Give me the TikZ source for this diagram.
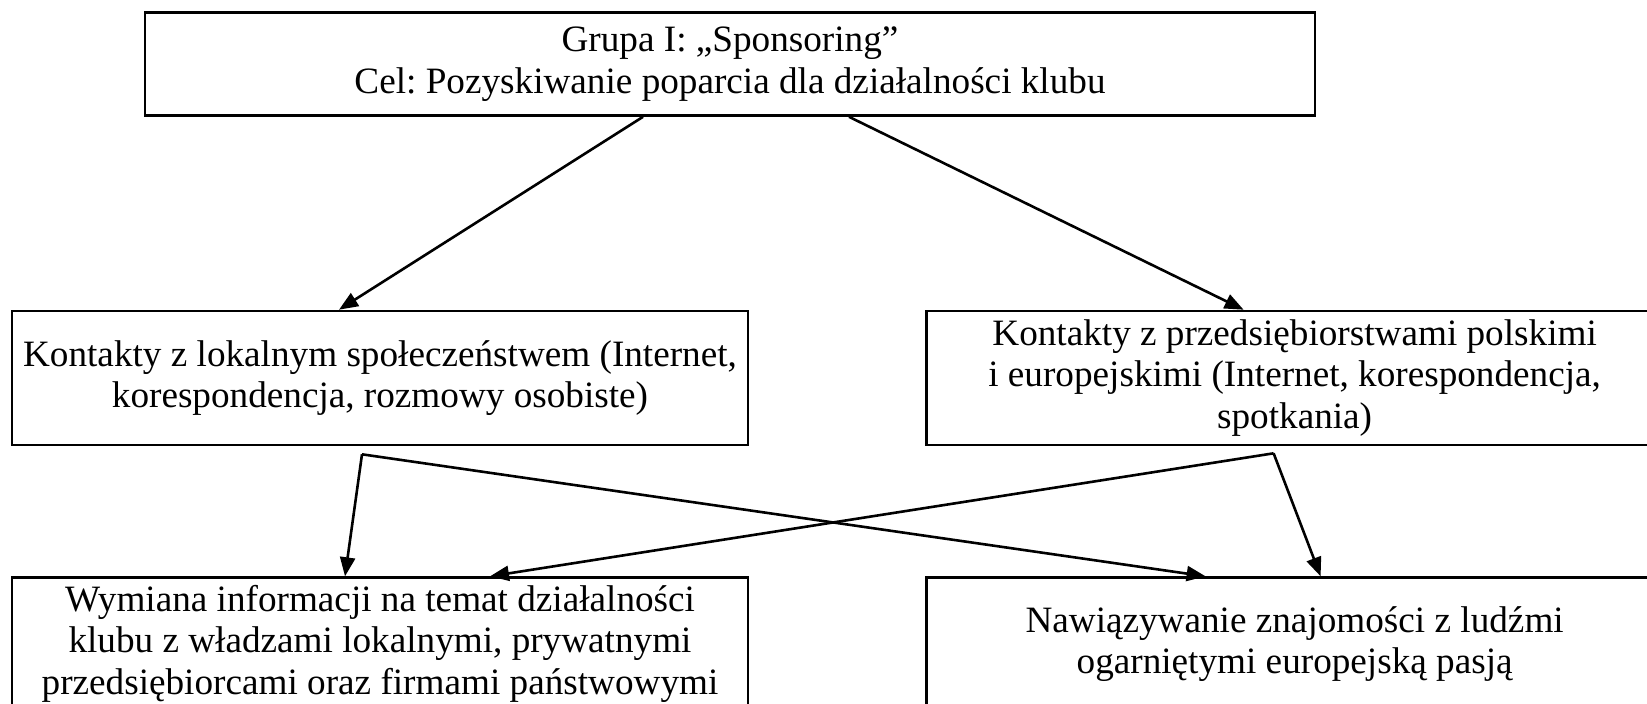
\documentclass[tikz,border=0pt]{standalone}
\usepackage{fontspec}
\setmainfont{Liberation Serif}
\usepackage{tikz}
\usetikzlibrary{positioning}
\usetikzlibrary{calc}
\usetikzlibrary{arrows.meta}
\frenchspacing
\tikzset{
    sponsoring diagram/.style={
            x=0.5pt,y=-0.5pt,
            font=\fontsize{18.6pt}{20.8pt}\selectfont,
            box/.style={draw,line width=1.3pt,align=center,inner sep=0pt,
                    minimum width=368pt,minimum height=67pt},
            arrow/.style={-{Triangle[length=9.5pt,width=7.5pt]},line width=1.3pt}
        }
    }

\begin{document}
\begin{tikzpicture}[sponsoring diagram]
    \useasboundingbox (0,0) rectangle (1647,703);
    \clip (0,0) rectangle (1647,703);

    \node [box, minimum width=585pt, minimum height=51.5pt] (G) at (730,64)
        {Grupa I: „Sponsoring”\\Cel: Pozyskiwanie poparcia dla działalności klubu};
    \node [box] (L) at (380,378)
        {Kontakty z lokalnym społeczeństwem (Internet,\\korespondencja, rozmowy osobiste)};
    \node [box, right=88pt of L] (P)
        {Kontakty z przedsiębiorstwami polskimi\\i europejskimi (Internet, korespondencja,\\spotkania)};
    \node [box, below=65pt of L, minimum height=66pt] (W)
        {Wymiana informacji na temat działalności\\klubu z władzami lokalnymi, prywatnymi\\przedsiębiorcami oraz firmami państwowymi};
    \node [box, below=65pt of P, minimum height=66.5pt] (N)
        {Nawiązywanie znajomości z ludźmi\\ogarniętymi europejską pasją};

    \coordinate (Lout) at ($(L.south)+(-18,8)$);
    \coordinate (Pout) at ($(P.south)+(-21,7)$);

    \draw [arrow] ($(G.south)+(-87,0)$) -- ($(L.north)+(-41,0)$);
    \draw [arrow] ($(G.south)+(119,0)$) -- ($(P.north)+(-51,0)$);
    \draw [arrow] (Lout) -- ($(W.north)+(-35,0)$);
    \draw [arrow] (Lout) -- ($(N.north)+(-89,0)$);
    \draw [arrow] (Pout) -- ($(N.north)+(26,0)$);
    \draw [arrow] (Pout) -- ($(W.north)+(110,0)$);
\end{tikzpicture}
\end{document}
